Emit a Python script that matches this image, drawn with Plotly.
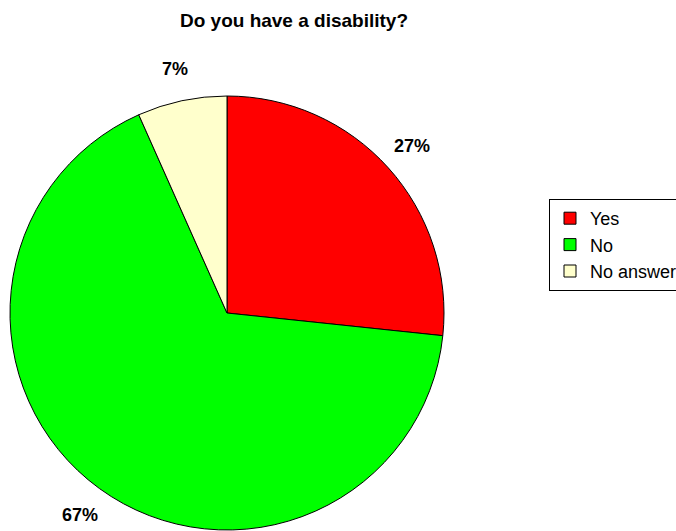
import math
import plotly.graph_objects as go

# Data
labels = ["Yes", "No", "No answer"]
values = [4, 10, 1]
pct_text = ["27%", "67%", "7%"]
colors = ["#FF0000", "#00FF00", "#FFFFCC"]
title_text = "Do you have a disability?"

W, H = 676, 531
dom_x = [10 / W, 444 / W]
dom_y = [1 / H, 435 / H]

fig = go.Figure(
    go.Pie(
        labels=labels,
        values=values,
        sort=False,
        direction="clockwise",
        rotation=0,
        marker=dict(colors=colors, line=dict(color="#000000", width=1)),
        textinfo="none",
        hoverinfo="label+percent",
        domain=dict(x=dom_x, y=dom_y),
    )
)

# Outside data labels, placed along each slice's mid-angle
cx = W * (dom_x[0] + dom_x[1]) / 2
cy = H * (1 - (dom_y[0] + dom_y[1]) / 2)
r = min(W * (dom_x[1] - dom_x[0]), H * (dom_y[1] - dom_y[0])) / 2
total = sum(values)
cum = 0
for v, t in zip(values, pct_text):
    mid = (cum + v / 2) / total * 2 * math.pi
    cum += v
    d = r * 1.15
    px = cx + d * math.sin(mid)
    py = cy - d * math.cos(mid)
    fig.add_annotation(
        x=px / W, y=1 - py / H, xref="paper", yref="paper",
        text="<b>" + t + "</b>", showarrow=False, xanchor="center", yanchor="middle",
        font=dict(family="Arial, Liberation Sans, sans-serif", size=18, color="#000000"),
    )

fig.update_layout(
    width=W,
    height=H,
    margin=dict(l=0, r=0, t=0, b=0, autoexpand=False),
    paper_bgcolor="#FFFFFF",
    plot_bgcolor="#FFFFFF",
    title=dict(
        text="<b>" + title_text + "</b>",
        x=294 / W, xanchor="center",
        y=1 - 20 / H, yanchor="middle", yref="container",
        font=dict(family="Arial, Liberation Sans, sans-serif", size=19, color="#000000"),
    ),
    showlegend=True,
    legend=dict(
        x=549 / W, xanchor="left",
        y=1 - 199 / H, yanchor="top",
        bgcolor="#FFFFFF",
        bordercolor="#000000",
        borderwidth=1,
        font=dict(family="Arial, Liberation Sans, sans-serif", size=18, color="#000000"),
        itemclick=False,
    ),
)

fig.write_html(
    "out.html",
    config={"displayModeBar": False},
    post_script="document.body.style.margin='0px';document.body.style.overflow='hidden';",
)
